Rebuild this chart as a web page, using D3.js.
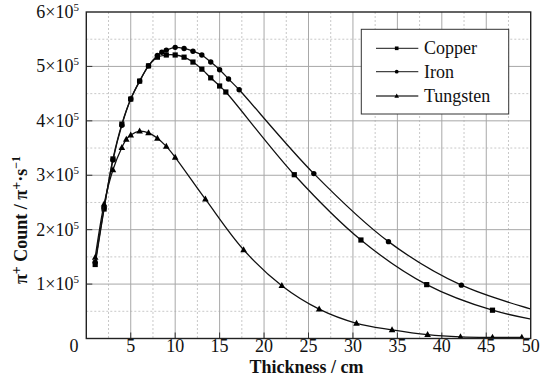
<!DOCTYPE html>
<html><head><meta charset="utf-8">
<script src="https://cdn.jsdelivr.net/npm/d3@7"></script>
<style>body{margin:0;background:#fff}svg{display:block}text{font-family:"Liberation Serif","DejaVu Serif","Times New Roman",serif}</style>
</head><body>
<svg id="chart" width="545" height="385"></svg>
<script>
// ---- data (values in units of 1e5) ----
const seriesNames = ["Copper", "Iron", "Tungsten"];
const copperX = [1, 2, 3, 4, 5, 6, 7, 8, 9, 10, 11, 12, 13, 14, 15, 15.7, 23.4, 30.9, 38.3, 45.7, 53];
const copperY = [1.36, 2.38, 3.30, 3.94, 4.40, 4.73, 5.01, 5.17, 5.21, 5.21, 5.17, 5.08, 4.95, 4.79, 4.64, 4.53, 3.01, 1.81, 0.99, 0.52, 0.27];
const ironX = [1, 2, 3, 4, 5, 6, 7, 8, 8.5, 9, 10, 11, 12, 13, 14, 15, 16, 17.2, 25.6, 34.0, 42.2, 53];
const ironY = [1.40, 2.40, 3.28, 3.92, 4.40, 4.73, 5.01, 5.20, 5.26, 5.30, 5.35, 5.33, 5.28, 5.21, 5.08, 4.94, 4.77, 4.57, 3.03, 1.78, 0.98, 0.40];
const tungX = [1, 2, 3, 4, 4.5, 5, 6, 7, 8, 9, 10, 13.4, 17.7, 22.0, 26.2, 30.4, 34.4, 38.4, 42.1, 45.7, 49.0];
const tungY = [1.49, 2.47, 3.10, 3.51, 3.66, 3.74, 3.81, 3.78, 3.68, 3.53, 3.33, 2.56, 1.63, 0.97, 0.54, 0.28, 0.16, 0.07, 0.03, 0.02, 0.02];
const xTicks = [0, 5, 10, 15, 20, 25, 30, 35, 40, 45, 50];
const yTicks = [1, 2, 3, 4, 5, 6];
const markerTypes = ["square", "circle", "triangle"];

const svg = d3.select("#chart");
const L = 86.3, R = 530.7, T = 12, B = 338.5;
const x = d3.scaleLinear().domain([0, 50]).range([L, R]);
const y = d3.scaleLinear().domain([0, 6]).range([B, T]);

svg.append("defs").append("clipPath").attr("id", "clip")
  .append("rect").attr("x", L).attr("y", T).attr("width", R - L).attr("height", B - T);

// minor grid (dotted)
const minorX = d3.range(2.5, 50, 5);
const minorY = d3.range(0.5, 6, 1);
const g = svg.append("g");
g.selectAll(".mx").data(minorX).join("line")
  .attr("x1", d => x(d)).attr("x2", d => x(d)).attr("y1", T).attr("y2", B)
  .attr("stroke", "#c8c8c8").attr("stroke-width", 1).attr("stroke-dasharray", "2,2");
g.selectAll(".my").data(minorY).join("line")
  .attr("y1", d => y(d)).attr("y2", d => y(d)).attr("x1", L).attr("x2", R)
  .attr("stroke", "#c8c8c8").attr("stroke-width", 1).attr("stroke-dasharray", "2,2");
// major grid
g.selectAll(".Mx").data(xTicks.slice(1, -1)).join("line")
  .attr("x1", d => x(d)).attr("x2", d => x(d)).attr("y1", T).attr("y2", B)
  .attr("stroke", "#a8a8a8").attr("stroke-width", 1);
g.selectAll(".My").data(yTicks.slice(0, -1)).join("line")
  .attr("y1", d => y(d)).attr("y2", d => y(d)).attr("x1", L).attr("x2", R)
  .attr("stroke", "#a8a8a8").attr("stroke-width", 1);
// inward ticks
g.selectAll(".tx").data(xTicks.slice(1, -1)).join("line")
  .attr("x1", d => x(d)).attr("x2", d => x(d)).attr("y1", B).attr("y2", B - 6)
  .attr("stroke", "#333").attr("stroke-width", 1);
g.selectAll(".ty").data(yTicks.slice(0, -1)).join("line")
  .attr("y1", d => y(d)).attr("y2", d => y(d)).attr("x1", L).attr("x2", L + 6)
  .attr("stroke", "#333").attr("stroke-width", 1);

// series
const series = [
  {name: seriesNames[0], xs: copperX, ys: copperY, m: markerTypes[0]},
  {name: seriesNames[1], xs: ironX, ys: ironY, m: markerTypes[1]},
  {name: seriesNames[2], xs: tungX, ys: tungY, m: markerTypes[2]}
];
const line = d3.line().x(d => x(d[0])).y(d => y(d[1])).curve(d3.curveCatmullRom.alpha(0.5));
const plot = svg.append("g").attr("clip-path", "url(#clip)");
function marker(sel, type) {
  if (type === "square") sel.append("rect").attr("x", -2.6).attr("y", -2.6).attr("width", 5.2).attr("height", 5.2);
  else if (type === "circle") sel.append("circle").attr("r", 2.7);
  else sel.append("path").attr("d", "M0,-3.6L3.3,2.4L-3.3,2.4Z");
}
series.forEach(s => {
  const pts = s.xs.map((v, i) => [v, s.ys[i]]);
  plot.append("path").datum(pts).attr("d", line)
    .attr("fill", "none").attr("stroke", "#111").attr("stroke-width", 1.3);
  pts.filter(p => p[0] <= 50).forEach(p => {
    const gm = plot.append("g").attr("transform", `translate(${x(p[0])},${y(p[1])})`).attr("fill", "#000");
    marker(gm, s.m);
  });
});

// frame
svg.append("rect").attr("x", L).attr("y", T).attr("width", R - L).attr("height", B - T)
  .attr("fill", "none").attr("stroke", "#222").attr("stroke-width", 1.4);

// x tick labels
svg.selectAll(".xl").data(xTicks).join("text")
  .attr("x", d => d === 0 ? 74 : x(d)).attr("y", 352)
  .attr("text-anchor", "middle").attr("font-size", 18).attr("fill", "#111")
  .text(d => d);
// y tick labels
yTicks.forEach(v => {
  const t = svg.append("text").attr("x", 79).attr("y", y(v) + 6)
    .attr("text-anchor", "end").attr("font-size", 18).attr("fill", "#111");
  t.append("tspan").text(v + "×10");
  t.append("tspan").attr("dy", -7).attr("font-size", 11).text("5");
});
// axis titles
svg.append("text").attr("x", (L + R) / 2 - 2).attr("y", 373)
  .attr("text-anchor", "middle").attr("font-size", 18).attr("font-weight", "bold")
  .attr("fill", "#111").text("Thickness / cm");
const yt = svg.append("text").attr("transform", "translate(27,220) rotate(-90)")
  .attr("text-anchor", "middle").attr("font-size", 18).attr("font-weight", "bold").attr("fill", "#111");
yt.append("tspan").text("π");
yt.append("tspan").attr("dy", -6).attr("font-size", 14).text("+");
yt.append("tspan").attr("dy", 6).text(" Count / π");
yt.append("tspan").attr("dy", -6).attr("font-size", 14).text("+");
yt.append("tspan").attr("dy", 6).text("·s");
yt.append("tspan").attr("dy", -7).attr("font-size", 12).text("−1");

// legend
const lg = svg.append("g");
lg.append("rect").attr("x", 361.3).attr("y", 29.3).attr("width", 147.4).attr("height", 84.7)
  .attr("fill", "#fff").attr("stroke", "#333").attr("stroke-width", 1);
const legY = [48.3, 71.7, 96];
series.forEach((s, i) => {
  lg.append("line").attr("x1", 376).attr("x2", 418.3).attr("y1", legY[i]).attr("y2", legY[i])
    .attr("stroke", "#444").attr("stroke-width", 1.3);
  const gm = lg.append("g").attr("transform", `translate(396.7,${legY[i]}) scale(0.7)`).attr("fill", "#000");
  marker(gm, s.m);
  lg.append("text").attr("x", 424).attr("y", legY[i] + 6).attr("font-size", 18)
    .attr("fill", "#111").text(s.name);
});
</script>
</body></html>
